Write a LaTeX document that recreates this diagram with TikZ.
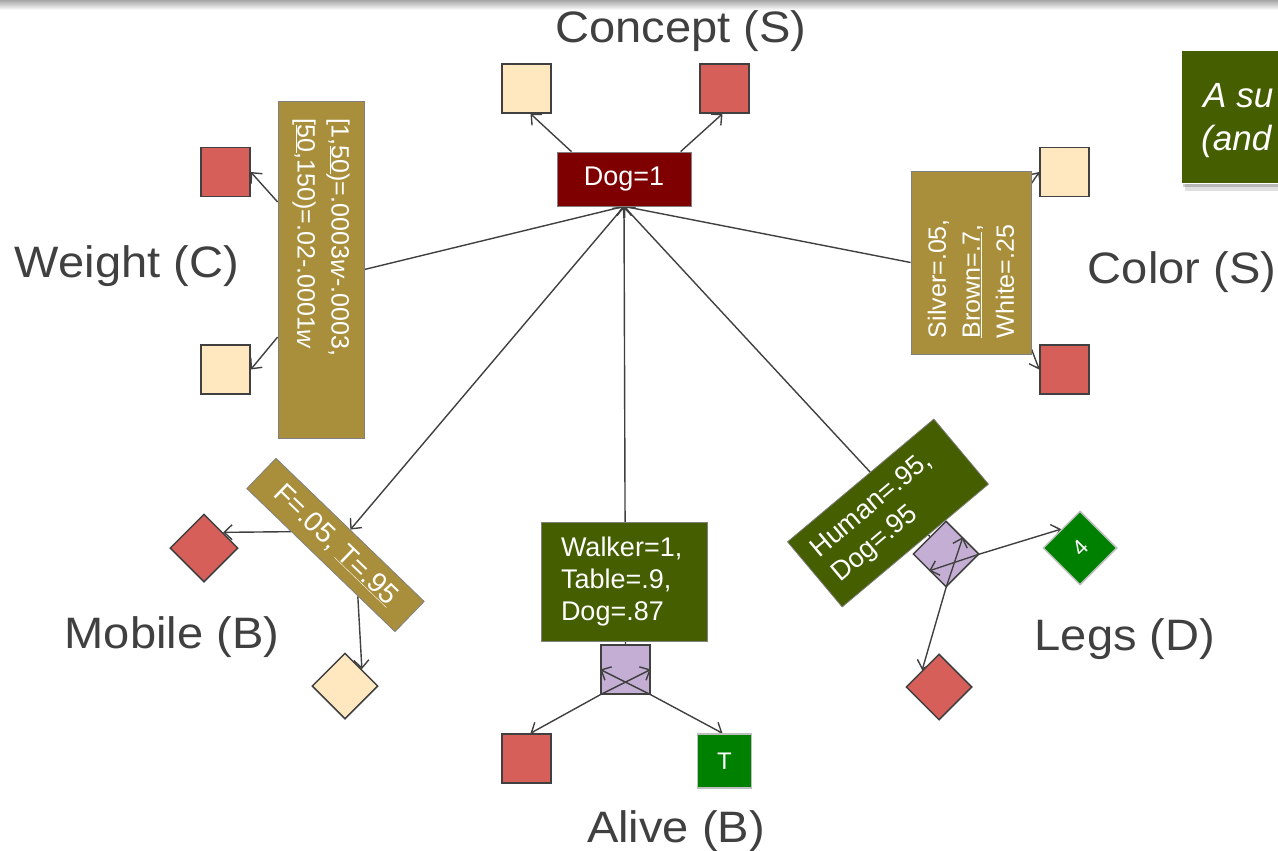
\documentclass[tikz,border=0pt]{standalone}
\usepackage{fontspec}
\setmainfont{Liberation Sans}
\newfontfamily\lblfont{Liberation Sans}[FakeStretch=1.07]
\usetikzlibrary{arrows.meta,calc,shapes.geometric}
\pgfdeclarelayer{bg}
\pgfsetlayers{bg,main}

\definecolor{ink}{HTML}{404040}
\definecolor{maroonbox}{HTML}{7F0000}
\definecolor{goldbox}{HTML}{A98F3B}
\definecolor{olivebox}{HTML}{445E00}
\definecolor{statered}{HTML}{D65F5A}
\definecolor{statecream}{HTML}{FFE8C0}
\definecolor{stategreen}{HTML}{008000}
\definecolor{lavender}{HTML}{C4AED4}

\begin{document}
\begin{tikzpicture}[x=1pt,y=-1pt,
  >={Straight Barb[length=8pt,width=15pt]},
  varlabel/.style={text=ink,font=\lblfont\fontsize{44}{52}\selectfont,anchor=base,inner sep=0},
  cpt/.style={draw=black!50,line width=0.8pt,text=white,inner sep=0},
  boxfont/.style={font=\fontsize{27}{32}\selectfont},
  rotfont/.style={font=\fontsize{25}{34}\selectfont},
  sq/.style={rectangle,draw=ink,line width=1.5pt,minimum size=49pt,inner sep=0},
  dia/.style={diamond,aspect=1,draw=ink,line width=1.5pt,inner sep=0},
  link/.style={draw=ink,line width=1.4pt},
]
\useasboundingbox (0,0) rectangle (1278,851);
\clip (0,0) rectangle (1278,851);

% top edge shading
\shade[top color=black!35,bottom color=white] (0,0) rectangle (1278,10);

% variable names
\node[varlabel] (lconcept) at (681,43) {Concept (S)};
\node[varlabel] (lweight) at (127,277) {Weight (C)};
\node[varlabel] (lcolor) at (1182,283) {Color (S)};
\node[varlabel] (lmobile) at (172,648) {Mobile (B)};
\node[varlabel] (lalive) at (676,842) {Alive (B)};
\node[varlabel] (llegs) at (1125,650) {Legs (D)};

% Concept
\node[cpt,fill=maroonbox,minimum width=134pt,minimum height=54pt,boxfont] (dog) at (624,179) {Dog=1};
\node[sq,fill=statecream] (cl) at (526.5,88.5) {};
\node[sq,fill=statered] (cr) at (724.5,88.5) {};

% Weight
\node[cpt,fill=goldbox,rotate=-90,minimum width=337pt,minimum height=86pt,
      text width=303pt,align=left,inner xsep=17pt,rotfont] (wbox) at (321,269.5)
      {[1,\underline{50})=.0003\textit{w}-.0003,\\{[}\underline{50},150)=.02-.0001\textit{w}};
\node[sq,fill=statered] (ws1) at (225.5,172) {};
\node[sq,fill=statecream] (ws2) at (225.5,369.5) {};

% Color
\node[cpt,fill=goldbox,rotate=90,minimum width=183pt,minimum height=120pt,
      text width=151pt,align=left,inner xsep=16pt,rotfont] (cbox) at (971,262.5)
      {Silver=.05,\\\underline{Brown=.7},\\White=.25};
\node[sq,fill=statecream] (cs1) at (1064.5,172) {};
\node[sq,fill=statered] (cs2) at (1064.5,369.5) {};

% Mobile
\node[cpt,fill=goldbox,rotate=-44,minimum width=206pt,minimum height=42pt,
      font=\fontsize{28}{32}\selectfont] (mbox) at (335.5,545)
      {F=.05, \underline{T=.95}};
\node[dia,fill=statered,minimum size=68pt] (mr) at (204,548) {};
\node[dia,fill=statecream,minimum size=66pt] (mc) at (345,686) {};

% Alive
\node[sq,fill=lavender] (al) at (625.5,669.5) {};
\node[cpt,fill=olivebox,minimum width=166pt,minimum height=119pt,text width=126pt,
      align=left,inner xsep=20pt,boxfont] (abox) at (624,581.5) {Walker=1,\\Table=.9,\\Dog=.87};
\node[sq,fill=statered] (ar) at (526.5,758.5) {};
\node[sq,fill=stategreen,draw=black!25,minimum size=54pt,text=white,
      font=\fontsize{24}{28}\selectfont] (ag) at (724.5,761) {T};

% Legs
\node[dia,fill=lavender,minimum size=66pt] (ll) at (946,554) {};
\node[cpt,fill=olivebox,rotate=40,minimum width=191pt,minimum height=85pt,text width=163pt,
      align=left,inner xsep=14pt,boxfont] (hbox) at (888,513) {Human=.95,\\Dog=.95};
\node[dia,fill=stategreen,draw=black!25,minimum size=74pt,text=white,
      font=\fontsize{22}{26}\selectfont] (lg) at (1080,548) {\rotatebox{45}{4}};
\node[dia,fill=statered,minimum size=66pt] (lr) at (939,687) {};

% marks inside the lavender nodes
\draw[link,->] (al.south west) -- (al.east);
\draw[link,->] (al.south east) -- (al.west);
\draw[link,->] (ll.south) -- ($(ll.north)!0.5!(ll.east)$);
\draw[link,->] (ll.east) -- ($(ll.west)!0.5!(ll.south)$);

% note in the corner
\fill[black,opacity=0.12] (1185,55) rectangle (1290,191);
\fill[black,opacity=0.18] (1183,52) rectangle (1290,187);
\node[fill=olivebox,draw=white,line width=1pt,minimum width=130pt,minimum height=133pt,
      anchor=north west,inner sep=0] (note) at (1181,50) {};
\node[anchor=base west,text=white,inner sep=0,font=\itshape\fontsize{35}{40}\selectfont] (notea) at (1203,107) {A su};
\node[anchor=base west,text=white,inner sep=0,font=\itshape\fontsize{35}{40}\selectfont] (noteb) at (1201,150) {(and};

% connectors
\begin{pgfonlayer}{bg}
  \draw[link,->] (wbox.north) -- (dog.south);
  \draw[link,->] (cbox.north) -- (dog.south);
  \draw[link,->] (al.north) -- (dog.south);
  \draw[link,->] (ll) -- (dog.south);
  \draw[link,<->] (dog.south) -- (mbox.north);

  \draw[link,->] ($(dog.north west)!0.11!(dog.north east)$) -- ([xshift=4pt]cl.south);
  \draw[link,->] ($(dog.north west)!0.92!(dog.north east)$) -- ([xshift=-2pt]cr.south);

  \draw[link,->] ($(wbox.south west)!0.30!(wbox.south east)$) -- (ws1.east);
  \draw[link,->] ($(wbox.south west)!0.70!(wbox.south east)$) -- (ws2.east);

  \draw[link,->] ($(cbox.south east)!0.07!(cbox.south west)$) -- (cs1.west);
  \draw[link,->] ($(cbox.south west)!0.03!(cbox.south east)$) -- (cs2.west);

  \draw[link,->] ($(mbox.south west)!0.30!(mbox.south east)$) -- ($(mr.north)!0.55!(mr.east)$);
  \draw[link,->] ($(mbox.south west)!0.75!(mbox.south east)$) -- ($(mc.north)!0.5!(mc.east)$);

  \draw[link,->] (al.south west) -- ([xshift=4pt]ar.north);
  \draw[link,->] (al.south east) -- ([xshift=-2pt]ag.north);

  \draw[link,->] (ll.east) -- ($(lg.west)!0.5!(lg.north)$);
  \draw[link,->] (ll.south) -- ($(lr.north)!0.5!(lr.west)$);
\end{pgfonlayer}
\end{tikzpicture}
\end{document}
